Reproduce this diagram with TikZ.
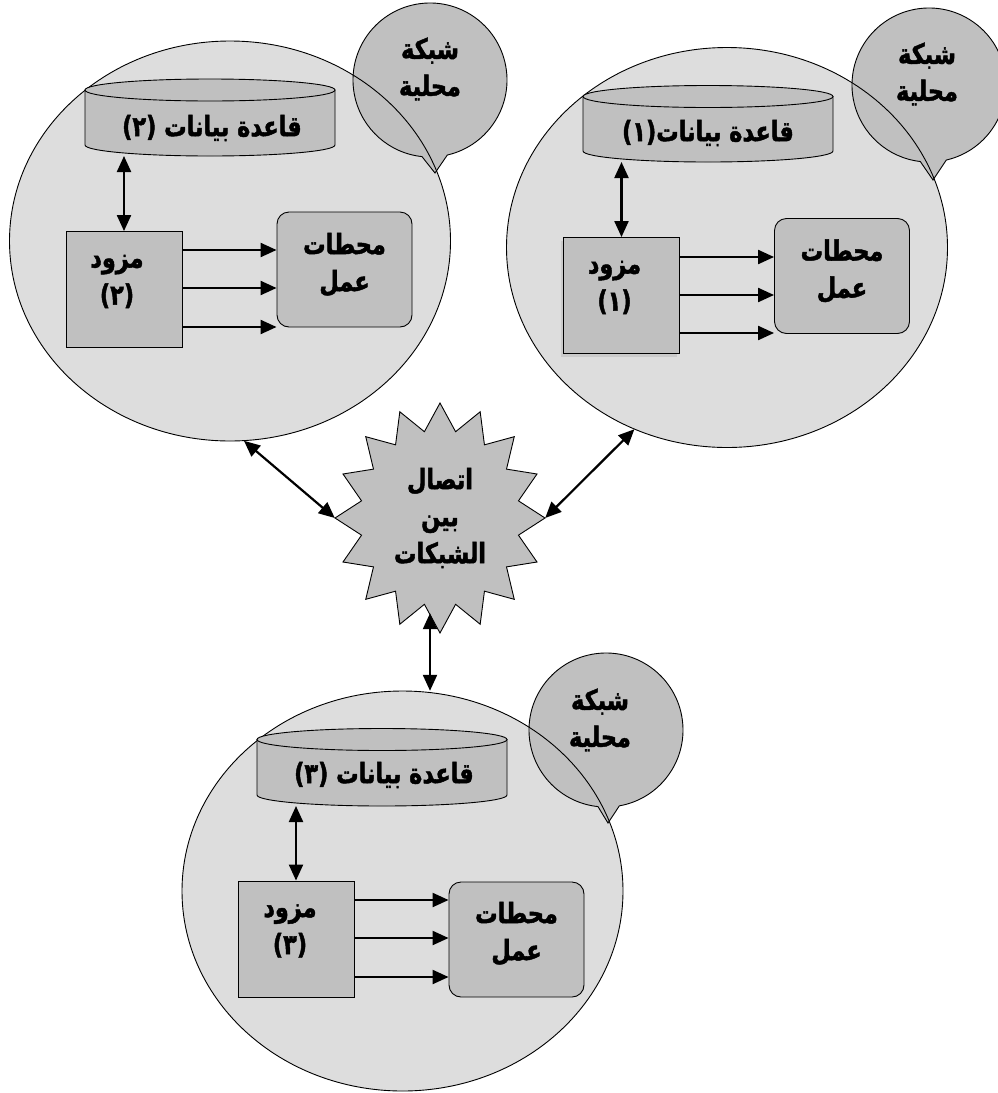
\documentclass[tikz,border=0pt]{standalone}
\usepackage{fontspec}
\usetikzlibrary{arrows.meta,shapes.geometric,calc}
\newfontfamily\arabicfont[Script=Arabic, FakeStretch=0.8, BoldFeatures={FakeBold=1.6}]{DejaVu Sans}
\TeXXeTstate=1
\newcommand\rtl[1]{\beginR#1\endR}
\newcommand\ltr[1]{\beginL#1\endL}
\definecolor{netfill}{RGB}{221,221,221}
\definecolor{partfill}{RGB}{192,192,192}
\definecolor{shadowfill}{RGB}{202,202,202}
% database drum: centre x, top-ellipse y, bottom-ellipse y
\newcommand\drum[3]{%
  \draw[part] (#1-125,#2) -- (#1-125,#3) arc[start angle=180,end angle=0,x radius=125,y radius=11] -- (#1+125,#2) -- cycle;
  \draw[part] (#1,#2) ellipse[x radius=125, y radius=11];
}
\begin{document}
\begin{tikzpicture}[x=1pt,y=-1pt,
  txt/.style={font=\arabicfont\bfseries\fontsize{28}{37}\selectfont, align=center, inner sep=0pt},
  netarea/.style={ellipse, fill=netfill, minimum width=441pt, minimum height=400pt, inner sep=0pt},
  netrim/.style={ellipse, draw=black, line width=0.9pt, minimum width=441pt, minimum height=400pt, inner sep=0pt},
  part/.style={draw=black, fill=partfill, line width=0.9pt},
  server/.style={part, rectangle, minimum width=116pt, minimum height=116pt, inner sep=0pt},
  station/.style={part, rectangle, rounded corners=12pt, minimum width=135pt, minimum height=115pt, inner sep=0pt},
  link/.style={line width=2.2pt, -{Triangle[length=16pt,width=14pt]}},
  duplex/.style={line width=2.2pt, {Triangle[length=16pt,width=14pt]}-{Triangle[length=16pt,width=14pt]}},
]
\useasboundingbox (0,0) rectangle (998,1093);

% local network areas
\node[netarea] (net2) at (230,241) {};
\node[netarea] (net1) at (727,247.5) {};
\node[netarea] (net3) at (402.5,891) {};

% callout bubbles
\coordinate (lan2) at (430,80);
\coordinate (tip2) at (435,173);
\draw[part] ($(lan2)+(96:77)$) -- (tip2) -- ($(lan2)+(77:77)$) arc[start angle=77,end angle=-264,radius=77] -- cycle;
\coordinate (lan1) at (929,85);
\coordinate (tip1) at (933,180);
\draw[part] ($(lan1)+(96.5:77)$) -- (tip1) -- ($(lan1)+(77:77)$) arc[start angle=77,end angle=-263.5,radius=77] -- cycle;
\coordinate (lan3) at (606,730);
\coordinate (tip3) at (608,823);
\draw[part] ($(lan3)+(96:77)$) -- (tip3) -- ($(lan3)+(80:77)$) arc[start angle=80,end angle=-264,radius=77] -- cycle;

\node[txt] (lan2t) at (430,69) {\rtl{شبكة}\\\rtl{محلية}};
\node[txt] (lan1t) at (927,74) {\rtl{شبكة}\\\rtl{محلية}};
\node[txt] (lan3t) at (600,720) {\rtl{شبكة}\\\rtl{محلية}};

% rims of the network areas
\node[netrim] at (net2) {};
\node[netrim] at (net1) {};
\node[netrim] at (net3) {};

% databases
\drum{210}{90}{145}
\drum{708}{96.5}{151}
\drum{382}{739.5}{795}
\coordinate (db2b) at (210,156);
\coordinate (db1b) at (708,162);
\coordinate (db3b) at (382,806);
\node[txt] (db2) at (212,128) {\rtl{قاعدة بيانات \ltr{(٢)}}};
\node[txt] (db1) at (708,133) {\rtl{قاعدة بيانات\ltr{(١)}}};
\node[txt] (db3) at (384,775) {\rtl{قاعدة بيانات \ltr{(٣)}}};

% servers
\fill[shadowfill] (561,241) rectangle (676.5,356.5);
\node[server] (srv2) at (124,289.5) {};
\node[server] (srv1) at (621.5,295.5) {};
\node[server] (srv3) at (296,939) {};
\node[txt] (srv2t) at ($(srv2)+(-7,-8)$) {\rtl{مزود}\\(٢)};
\node[txt] (srv1t) at ($(srv1)+(-7,-8)$) {\rtl{مزود}\\(١)};
\node[txt] (srv3t) at ($(srv3)+(-6,-8)$) {\rtl{مزود}\\(٣)};

% workstations
\node[station] (ws2) at (344.5,269.5) {};
\node[station] (ws1) at (842,276) {};
\node[station] (ws3) at (516.5,939.5) {};
\node[txt] (ws2t) at ($(ws2)+(0,-5)$) {\rtl{محطات}\\\rtl{عمل}};
\node[txt] (ws1t) at ($(ws1)+(0,-5)$) {\rtl{محطات}\\\rtl{عمل}};
\node[txt] (ws3t) at ($(ws3)+(0,-6)$) {\rtl{محطات}\\\rtl{عمل}};

% interconnection star
\draw[part] (545,518) \foreach \i in {1,...,31}{
  -- ({440+ifthenelse(mod(\i,2)==0,105,80)*cos(\i*11.25)},{518+ifthenelse(mod(\i,2)==0,115,88)*sin(\i*11.25)})
} -- cycle;
\node[txt, ellipse, minimum width=210pt, minimum height=230pt] (hub) at (440,518)
  {\rtl{اتصال}\\\rtl{بين}\\\rtl{الشبكات}};

% server to workstation links
\foreach \yy in {250,288,327} \draw[link] (srv2.east |- 0,\yy) -- (ws2.west |- 0,\yy);
\foreach \yy in {257,295,333} \draw[link] (srv1.east |- 0,\yy) -- (ws1.west |- 0,\yy);
\foreach \yy in {900,938,977} \draw[link] (srv3.east |- 0,\yy) -- (ws3.west |- 0,\yy);

% server to database links
\draw[duplex] (srv2.north) -- (srv2.north |- db2b);
\draw[duplex] (srv1.north) -- (srv1.north |- db1b);
\draw[duplex] (srv3.north) -- (srv3.north |- db3b);

% network interconnection links
\draw[duplex] (net2.-86) -- (hub.west);
\draw[duplex] (net1.-117) -- (hub.east);
\coordinate (hubfoot) at ([xshift=-10pt,yshift=20pt]hub.south);
\draw[duplex] (hubfoot) -- (hubfoot |- net3.north);
\end{tikzpicture}
\end{document}
